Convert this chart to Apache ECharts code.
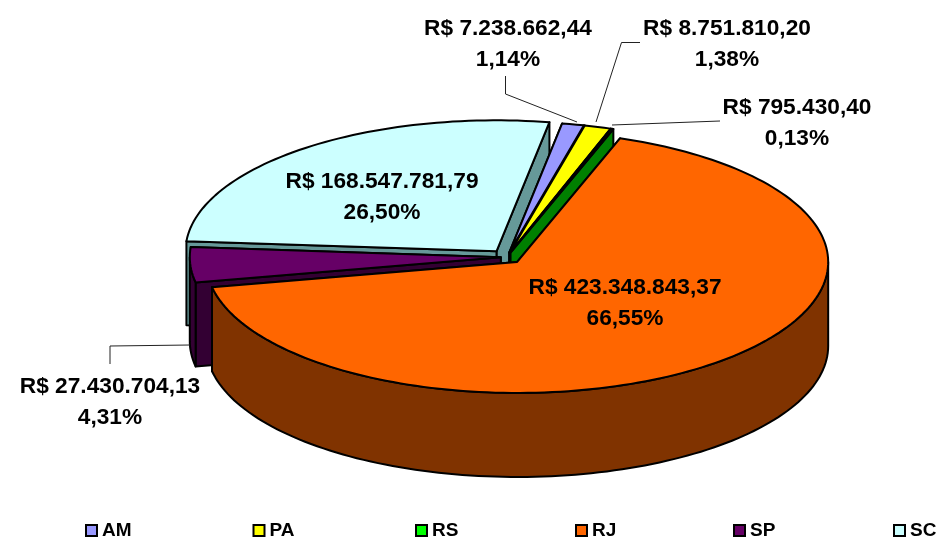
<!DOCTYPE html>
<html><head><meta charset="utf-8">
<style>html,body{margin:0;padding:0;background:#fff}#c{width:939px;height:539px}</style>
<script src="https://cdn.jsdelivr.net/npm/echarts@6/dist/echarts.min.js"></script>
</head><body><div id="c"></div>
<script>
// Data (in original slice order)
const categories = ['AM','PA','RS','RJ','SP','SC'];
const values = [7238662.44, 8751810.20, 795430.40, 423348843.37, 27430704.13, 168547781.79];
const percentLabels = ['1,14%','1,38%','0,13%','66,55%','4,31%','26,50%'];

// Styles
const topColors = ['#9999FF','#FFFF00','#008000','#FF6600','#660066','#CCFFFF'];
const wallColors = ['#666699','#808000','#008000','#803300','#330033','#669999'];
const legendColors = ['#9999FF','#FFFF00','#00FF00','#FF6600','#660066','#CCFFFF'];
const explode = [0.035,0.035,0.035,0.05,0.02,0.055];
const drawOrder = [5,4,0,1,2,3];
const legendLeft = [85,252.5,415,575,733,893];
const labelPos = [[508,44],[727,44],[797,123.5],[625,303.5],[110,402],[382,197]];
const leaders = [
  [[505.5,76],[505.5,94],[577,122]],
  [[640,42.5],[621.5,42.5],[596,122]],
  [[720,121],[612,125]],
  null,
  [[190,345],[110,346],[110,364]],
  null
];

const CX=507, CY=257, RX=311, RY=131, DEPTH=84, START=9.8;
const FONT='"Liberation Sans",Arial,sans-serif';
const total = values.reduce((a,b)=>a+b,0);

function fmt(v){
  const s=v.toFixed(2).split('.');
  return 'R$ '+s[0].replace(/\B(?=(\d{3})+$)/g,'.')+','+s[1];
}
function rad(d){return d*Math.PI/180;}
function sliceAngles(i){
  let a=START;
  for(let k=0;k<i;k++) a+=values[k]/total*360;
  return [a,a+values[i]/total*360];
}
function renderSlice(i){
  return function(){
    const [a0,a1]=sliceAngles(i);
    const mid=rad((a0+a1)/2), e=explode[i];
    const ax=CX+RX*e*Math.sin(mid), ay=CY-RY*e*Math.cos(mid);
    const pt=(deg,dz)=>[ax+RX*Math.sin(rad(deg)), ay-RY*Math.cos(rad(deg))+(dz||0)];
    const stroke={stroke:'#000',lineWidth:2,lineJoin:'round'};
    const children=[];
    const poly=(points,fill)=>children.push({type:'polygon',shape:{points},style:Object.assign({fill},stroke)});
    const face=deg=>poly([[ax,ay],pt(deg),pt(deg,DEPTH),[ax,ay+DEPTH]],wallColors[i]);
    const arc=(from,to,dz)=>{const n=Math.max(2,Math.ceil(Math.abs(to-from)/1.5));const r=[];for(let k=0;k<=n;k++)r.push(pt(from+(to-from)*k/n,dz));return r;};
    // cut faces, the farther one first
    const faces=[a0,a1].sort((p,q)=>Math.cos(rad(q))-Math.cos(rad(p)));
    face(faces[0]); face(faces[1]);
    // curved outer wall: front half only (90..270 deg)
    const from=Math.max(a0,90), to=Math.min(a1,270);
    if(to>from){
      poly(arc(from,to,0).concat(arc(to,from,DEPTH)),wallColors[i]);
    }
    // top
    poly([[ax,ay]].concat(arc(a0,a1,0)),topColors[i]);
    return {type:'group',children};
  };
}
const series=drawOrder.map(i=>({
  type:'custom',name:categories[i],coordinateSystem:'none',
  data:[values[i]],itemStyle:{color:legendColors[i],borderColor:'#000',borderWidth:1.5},
  renderItem:renderSlice(i),silent:true,animation:false,z:2
}));
// leader lines + labels, on top of the pie
const labelSeries={
  type:'custom',name:'labels',coordinateSystem:'none',data:values,silent:true,animation:false,z:5,
  renderItem(params,api){
    const i=params.dataIndex, children=[];
    if(leaders[i]) children.push({type:'polyline',shape:{points:leaders[i]},style:{fill:null,stroke:'#222',lineWidth:1}});
    children.push({type:'text',x:labelPos[i][0],y:labelPos[i][1],style:{
      text:fmt(values[i])+'\n'+percentLabels[i],fill:'#000',font:'bold 22.7px '+FONT,
      align:'center',verticalAlign:'middle',lineHeight:31}});
    return {type:'group',children};
  }
};
const legend=categories.map((c,i)=>({
  data:[c],left:legendLeft[i],top:521,orient:'horizontal',itemWidth:11,itemHeight:11,itemGap:0,padding:0,
  selectedMode:false,icon:'rect',
  textStyle:{fontFamily:FONT,fontWeight:'bold',fontSize:19,color:'#000',padding:0}
}));
const chart=echarts.init(document.getElementById('c'),null,{renderer:'canvas'});
chart.setOption({animation:false,backgroundColor:'#fff',legend,series:series.concat([labelSeries])});
</script></body></html>
